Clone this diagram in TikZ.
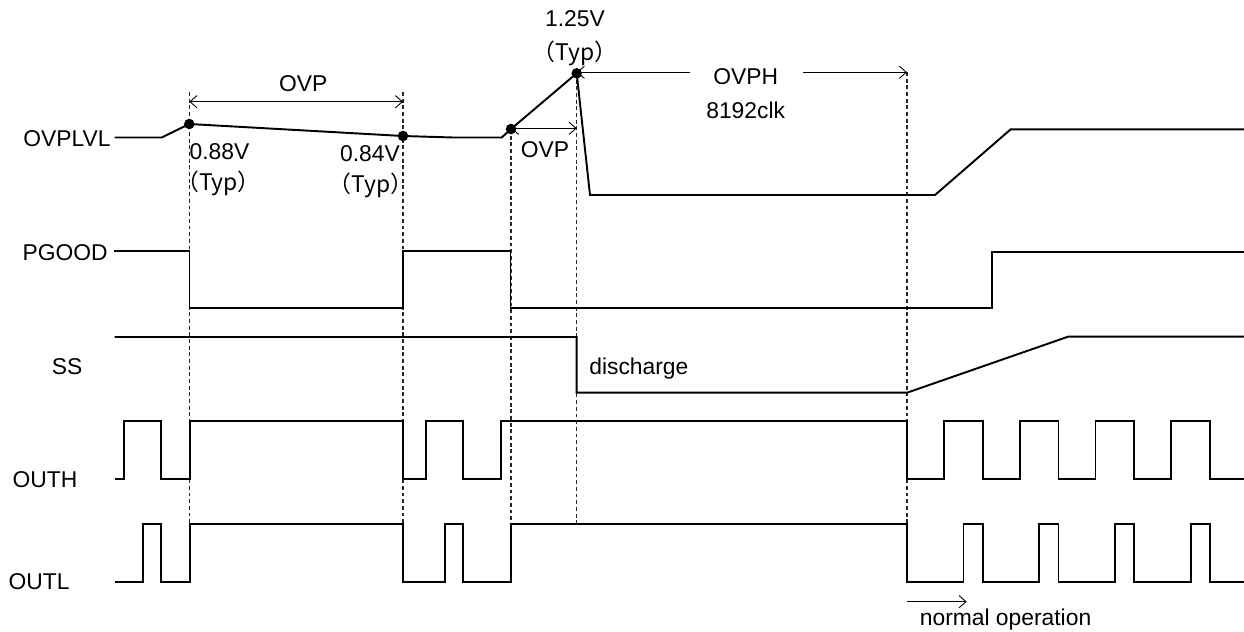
\documentclass[tikz,border=0pt]{standalone}
\usepackage{fontspec}
\setmainfont{Liberation Sans}
\newfontfamily\cjkfont{Noto Sans CJK JP}
\usepackage{tikz}
\usetikzlibrary{arrows.meta, positioning}
\usepackage{xcolor}
\definecolor{signalblack}{RGB}{0, 0, 0}
\definecolor{guidegray}{RGB}{40, 40, 40}

\tikzset{
    signal/.style={line width=1.1pt, signalblack, line join=miter},
    guide/.style={line width=0.6pt, guidegray, dash pattern=on 2.2pt off 1.6pt},
    dimline/.style={line width=0.5pt, signalblack, arrows={Straight Barb[length=4pt, width=7pt]-Straight Barb[length=4pt, width=7pt]}},
    dimhalf/.style={line width=0.5pt, signalblack, -{Straight Barb[length=4pt, width=7pt]}},
    lvldot/.style={circle, fill=signalblack, inner sep=0pt, minimum size=6pt},
    lbl/.style={font=\fontsize{13}{15}\selectfont, inner sep=0pt}
}

\begin{document}
\begin{tikzpicture}[x=0.02cm, y=-0.02cm]
    \useasboundingbox (0,0) rectangle (1244,632);

    % Signal names
    \node[lbl, anchor=east] (nOVPLVL) at (111,139) {OVPLVL};
    \node[lbl, anchor=east] (nPGOOD) at (108,253) {PGOOD};
    \node[lbl] (nSS) at (67,367) {SS};
    \node[lbl] (nOUTH) at (45,480) {OUTH};
    \node[lbl] (nOUTL) at (39,582) {OUTL};

    % Timing guides
    \draw[guide] (189.3,92) -- (189.3,524.3);
    \draw[guide] (403,92) -- (403,524.3);
    \draw[guide] (511,129) -- (511,524.3);
    \draw[guide] (576.7,73) -- (576.7,524.3);
    \draw[guide] (907,72) -- (907,524.3);

    % OVPLVL
    \draw[signal] (114.5,137.5) -- (161.7,137.5) -- (189.3,124) -- (403,136) -- (453,137.5)
        -- (501.7,137.5) -- (511,129) -- (576.7,73.3) -- (590,195) -- (935,195)
        -- (1010.7,129.3) -- (1244,129.3);
    \node[lvldot] (d1) at (189.3,124) {};
    \node[lvldot] (d2) at (403,136) {};
    \node[lvldot] (d3) at (511,129) {};
    \node[lvldot] (d4) at (576.7,73.3) {};

    \node[lbl] (v088) at (219.5,152) {0.88V};
    \node[lbl] (t088) at (218.5,183.5) {\cjkfont （Typ）};
    \node[lbl] (v084) at (370,154) {0.84V};
    \node[lbl] (t084) at (371,185) {\cjkfont （Typ）};
    \node[lbl] (v125) at (575,18.5) {1.25V};
    \node[lbl] (t125) at (575,53.5) {\cjkfont （Typ）};

    % OVP / OVPH spans
    \coordinate (ovpA) at (189.3,101.7);
    \coordinate (ovpB) at (403,101.7);
    \draw[dimline] (ovpA) -- (ovpB);
    \node[lbl] (ovp1) at (303.3,83.5) {OVP};

    \coordinate (ovpC) at (511,128.3);
    \coordinate (ovpD) at (576.7,128.3);
    \draw[dimline] (ovpC) -- (ovpD);
    \node[lbl] (ovp2) at (545,150) {OVP};

    \node[lbl] (ovph) at (745.7,76.5) {OVPH};
    \node[lbl] (clk) at (745.7,110) {8192clk};
    \coordinate (ovphA) at (576.7,72.3);
    \coordinate (ovphB) at (907,72.3);
    \draw[dimhalf] (690,72.3) -- (ovphA);
    \draw[dimhalf] (803,72.3) -- (ovphB);

    % PGOOD
    \draw[signal] (114,250.7) -- (189.5,250.7) -- (189.5,307.7) -- (403.3,307.7) -- (403.3,250.7)
        -- (510.5,250.7) -- (510.5,307.7) -- (992,307.7) -- (992,251.7) -- (1244,251.7);

    % SS
    \draw[signal] (114.7,337) -- (576.7,337) -- (576.7,392.7) -- (907,392.7) -- (1068,336.7) -- (1244,336.7);
    \node[lbl, anchor=west] (dis) at (589,369) {discharge};

    % OUTH
    \draw[signal] (114.7,479) -- (124.2,479) -- (124.2,421.3) -- (161.3,421.3) -- (161.3,479)
        -- (189.8,479) -- (189.8,421.3) -- (403.3,421.3) -- (403.3,479) -- (425.9,479)
        -- (425.9,421.3) -- (463.4,421.3) -- (463.4,479) -- (501.4,479) -- (501.4,421.3)
        -- (907,421.3) -- (907,479)
        \foreach \k in {0,...,3} {
            -- ({944.1+75.7*\k},479) -- ({944.1+75.7*\k},421.3) -- ({982.8+75.7*\k},421.3) -- ({982.8+75.7*\k},479)
        } -- (1244,479);

    % OUTL
    \draw[signal] (114.7,581.7) -- (143.1,581.7) -- (143.1,524.3) -- (161.3,524.3) -- (161.3,581.7)
        -- (189.8,581.7) -- (189.8,524.3) -- (403.3,524.3) -- (403.3,581.7) -- (444.8,581.7)
        -- (444.8,524.3) -- (463.4,524.3) -- (463.4,581.7) -- (510.9,581.7) -- (510.9,524.3)
        -- (907,524.3) -- (907,581.7)
        \foreach \k in {0,...,3} {
            -- ({963.5+75.7*\k},581.7) -- ({963.5+75.7*\k},524.3) -- ({982.8+75.7*\k},524.3) -- ({982.8+75.7*\k},581.7)
        } -- (1244,581.7);

    % normal operation
    \coordinate (noA) at (907,601.7);
    \coordinate (noB) at (966.7,601.7);
    \draw[dimhalf] (noA) -- (noB);
    \node[lbl, anchor=west] (normop) at (919.5,620) {normal operation};
\end{tikzpicture}
\end{document}
